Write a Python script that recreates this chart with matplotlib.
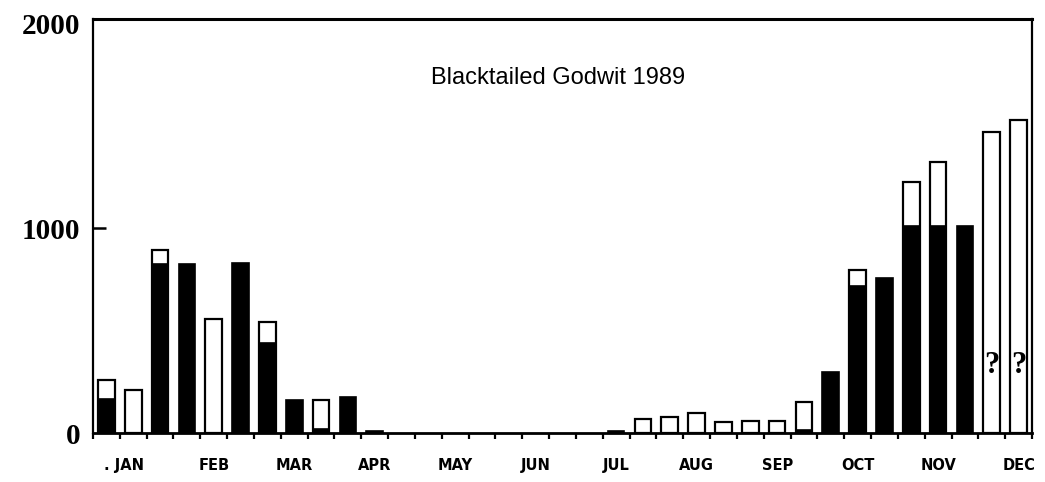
import matplotlib
matplotlib.use("Agg")
import matplotlib.pyplot as plt
import numpy as np

# Counts per survey period (35 periods across the year).
# Dark part of each column and the open part stacked on top of it.
dark_counts = [167, 0, 824, 824, 0, 829, 439, 162, 20, 174,
               12, 0, 0, 0, 0, 0, 0, 0, 0, 10,
               0, 0, 0, 0, 0, 0, 15, 298, 717, 756,
               1010, 1010, 1010, 0, 0]
open_counts = [93, 211, 70, 0, 556, 0, 105, 0, 142, 0,
               0, 0, 0, 0, 0, 0, 0, 0, 0, 0,
               68, 80, 96, 55, 58, 58, 138, 0, 78, 0,
               216, 312, 0, 1470, 1527]
uncertain_periods = [33, 34]

month_labels = [". JAN", "FEB", "MAR", "APR", "MAY", "JUN",
                "JUL", "AUG", "SEP", "OCT", "NOV", "DEC"]
month_label_pos = [0.67, 4, 7, 10, 13, 16, 19, 22, 25, 28, 31, 34]
y_ticks = [0, 1000, 2000]

dark = np.array(dark_counts, dtype=float)
light = np.array(open_counts, dtype=float)
total = dark + light
periods = np.arange(len(dark))

fig = plt.figure(figsize=(10.45, 4.82), dpi=100)
ax = fig.add_axes([93 / 1045, 1 - 433 / 482, 939 / 1045, 414 / 482])

bar_w = 0.62
# open columns (full height, outlined), then the dark part drawn over them
has_open = light > 0
ax.bar(periods[has_open], total[has_open], width=bar_w, color="white",
       edgecolor="black", linewidth=1.6, zorder=2)
has_dark = dark > 0
ax.bar(periods[has_dark], dark[has_dark], width=bar_w, color="black",
       edgecolor="black", linewidth=1.2, zorder=3)

for p in uncertain_periods:
    ax.text(p, 330, "?", ha="center", va="center", fontsize=22,
            fontweight="bold", family="Liberation Serif", zorder=4)

ax.text(0.495, 0.857, "Blacktailed Godwit 1989", transform=ax.transAxes,
        ha="center", va="center", fontsize=17, family="Liberation Sans")

ax.set_xlim(-0.5, len(dark) - 0.5)
ax.set_ylim(0, 2020)

# period boundaries as ticks, month names centred on their periods
ax.set_xticks(np.arange(len(dark) + 1) - 0.5)
ax.set_xticklabels([])
ax.tick_params(axis="x", which="major", direction="out", length=4.5,
               width=1.6, color="black")
ax.set_xticks(month_label_pos, minor=True)
ax.set_xticklabels(month_labels, minor=True, fontsize=10.5,
                   fontweight="bold", family="DejaVu Sans")
ax.tick_params(axis="x", which="minor", length=0, pad=18)

ax.set_yticks(y_ticks)
ax.set_yticklabels([str(v) for v in y_ticks], fontsize=21,
                   fontweight="bold", family="Liberation Serif")
ax.tick_params(axis="y", direction="in", length=9, width=1.8, pad=9)
# only the middle value carries a visible tick mark
for val, tick in zip(y_ticks, ax.yaxis.get_major_ticks()):
    if val != 1000:
        tick.tick1line.set_visible(False)

for side, lw in [("top", 2.2), ("bottom", 2.0), ("left", 1.6), ("right", 1.6)]:
    ax.spines[side].set_linewidth(lw)
    ax.spines[side].set_color("black")

fig.savefig("out.png", dpi=100, facecolor="white")
